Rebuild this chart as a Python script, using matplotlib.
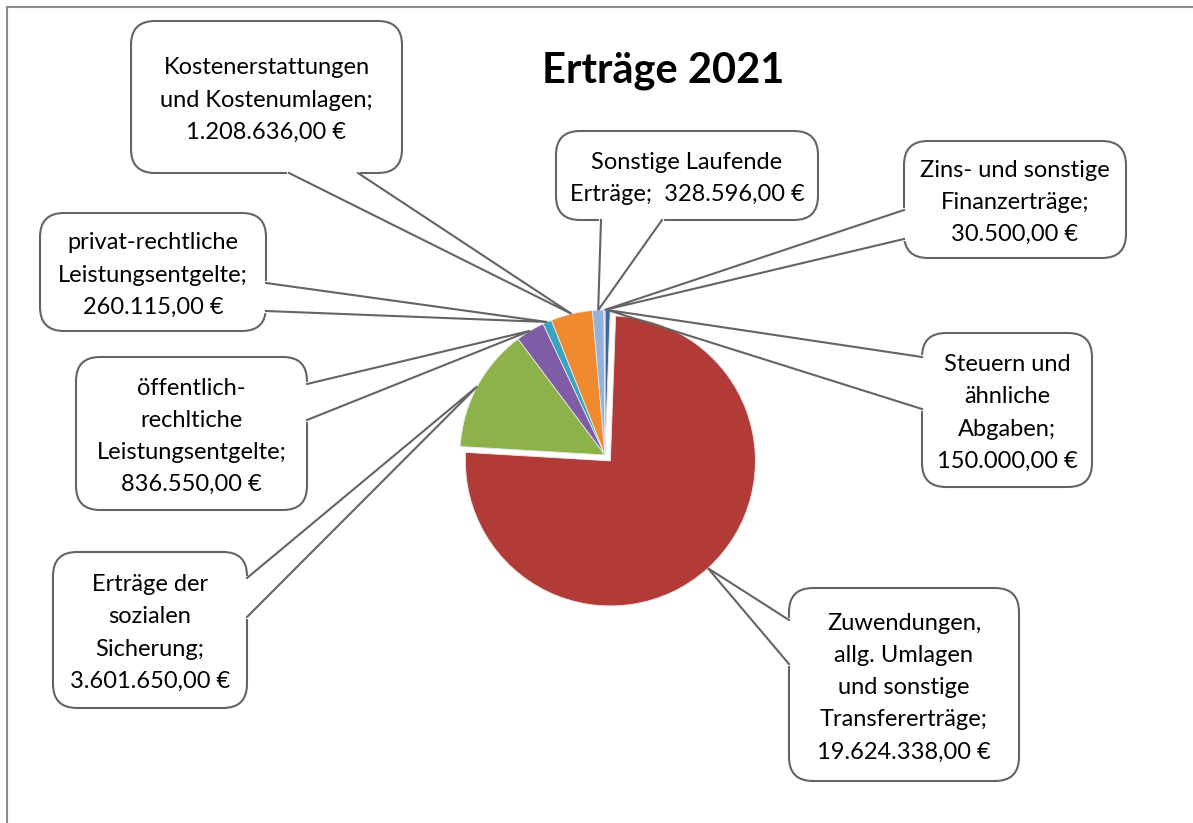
import numpy as np
import matplotlib.pyplot as plt
from matplotlib.patches import FancyBboxPatch, Rectangle

plt.rcParams['font.family'] = ['Lato', 'DejaVu Sans']

#--------data--------
categories = ["Steuern und\nähnliche\nAbgaben",
              "Zuwendungen,\nallg. Umlagen\nund sonstige\nTransfererträge",
              "Erträge der\nsozialen\nSicherung",
              "öffentlich-\nrechltiche\nLeistungsentgelte",
              "privat-rechtliche\nLeistungsentgelte",
              "Kostenerstattungen\nund Kostenumlagen",
              "Sonstige Laufende\nErträge",
              "Zins- und sonstige\nFinanzerträge"]
values = [150000.00, 19624338.00, 3601650.00, 836550.00,
          260115.00, 1208636.00, 328596.00, 30500.00]
value_sep = ["\n", "\n", "\n", "\n", "\n", "\n", "  ", "\n"]
colors = ["#3B67A5", "#B23B38", "#8DB24A", "#7E5CA6",
          "#3AA3C0", "#F08A2E", "#94B3DC", "#A9C4E8"]
title = "Erträge 2021"

#--------layout (pixels, origin top-left)--------
W, H = 1193, 823
pie_center = (605, 455)
pie_radius = 145
# callout boxes: x0, y0, x1, y1
boxes = [(922, 333, 1092, 487),
         (789, 588, 1019, 781),
         (53, 552, 247, 708),
         (76, 357, 307, 510),
         (40, 213, 266, 331),
         (131, 21, 402, 173),
         (556, 131, 818, 220),
         (904, 141, 1126, 258)]
# pointer base points on the box edge
bases = [((922, 357), (922, 409)),
         ((789, 620), (789, 664)),
         ((247, 578), (247, 617)),
         ((307, 384), (307, 420)),
         ((266, 283), (266, 311)),
         ((289, 173), (358, 173)),
         ((601, 220), (662, 220)),
         ((904, 210), (904, 239))]
edge_gray = "#646464"


def fy(y):
    return H - y


def euro(v):
    s = "{:,.2f}".format(v).replace(",", "X").replace(".", ",").replace("X", ".")
    return s + " €"


fig = plt.figure(figsize=(W / 100, H / 100), dpi=100)
ax = fig.add_axes([0, 0, 1, 1])

explode = [0, 8, 0, 0, 0, 0, 0, 0]
wedges, _ = ax.pie(values, colors=colors, startangle=90, counterclock=False,
                   radius=pie_radius, center=(pie_center[0], fy(pie_center[1])),
                   explode=explode,
                   wedgeprops=dict(edgecolor="#e8e8e8", linewidth=0.6))

ax.set_xlim(0, W)
ax.set_ylim(0, H)
ax.set_aspect("equal")
ax.axis("off")

# outer chart frame (only top and left edge visible)
ax.add_patch(Rectangle((7, -100), W + 200, fy(7) + 100, fill=False,
                       edgecolor="#8c8c8c", linewidth=1.5, zorder=1))

for w, cat, v, sep, box, base in zip(wedges, categories, values, value_sep, boxes, bases):
    # pointer tip at the middle of the wedge edge
    th = np.deg2rad((w.theta1 + w.theta2) / 2)
    tip = (w.center[0] + w.r * np.cos(th), w.center[1] + w.r * np.sin(th))
    x0, y0, x1, y1 = box
    ax.add_patch(FancyBboxPatch((x0, fy(y1)), x1 - x0, y1 - y0,
                                boxstyle="round,pad=0,rounding_size=24",
                                facecolor="white", edgecolor=edge_gray,
                                linewidth=1.5, zorder=3))
    (bx1, by1), (bx2, by2) = base
    ax.plot([bx1, bx2], [fy(by1), fy(by2)], color="white", linewidth=3, zorder=4)
    ax.plot([bx1, tip[0], bx2], [fy(by1), tip[1], fy(by2)], color=edge_gray,
            linewidth=1.5, zorder=5, solid_joinstyle="miter")
    ax.text((x0 + x1) / 2, fy((y0 + y1) / 2 + 3), cat + ";" + sep + euro(v),
            ha="center", va="center", multialignment="center",
            fontsize=17, linespacing=1.66, color="black", zorder=6)

ax.text(663, fy(82), title, ha="center", va="baseline", fontsize=30,
        fontweight="bold", color="black")

fig.savefig("out.png", dpi=100)
